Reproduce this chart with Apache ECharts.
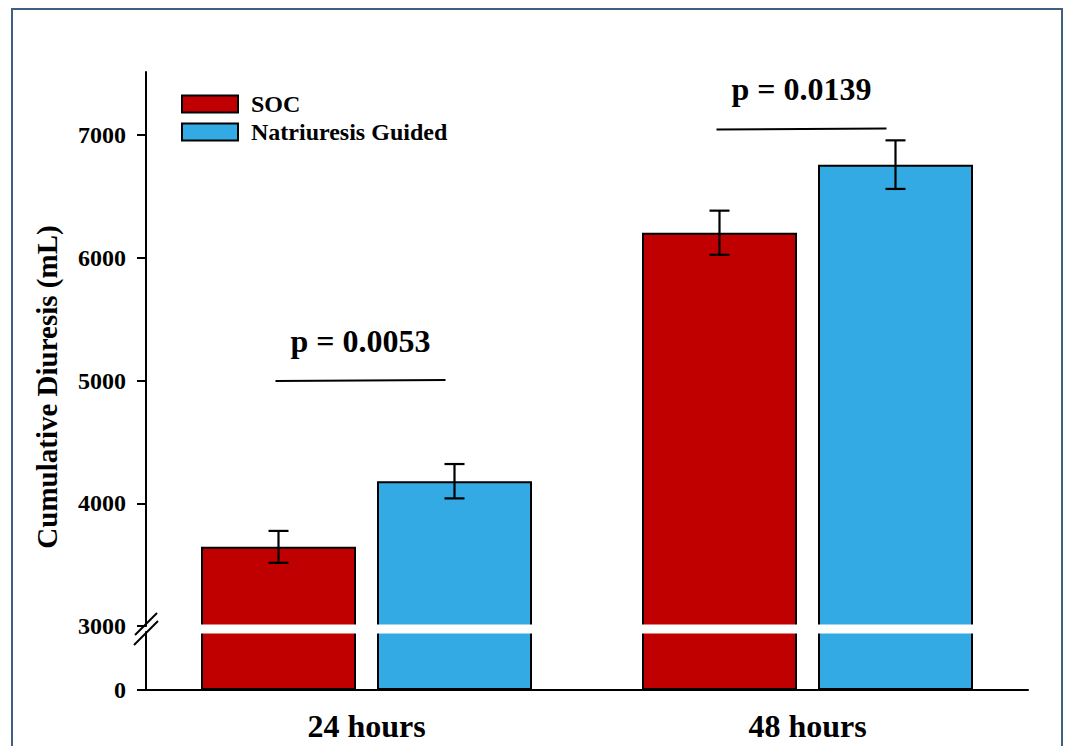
<!DOCTYPE html>
<html>
<head>
<meta charset="utf-8">
<script src="https://cdn.jsdelivr.net/npm/echarts@6/dist/echarts.min.js"></script>
<style>
html,body{margin:0;padding:0;background:#fff;}
#chart{width:1066px;height:746px;}
</style>
</head>
<body>
<div id="chart"></div>
<script>
// ---- data ----
const categories = ['24 hours', '48 hours'];
const seriesNames = ['SOC', 'Natriuresis Guided'];
const socValues = [3645, 6205];
const socErrors = [130, 180];
const ngValues = [4180, 6760];
const ngErrors = [140, 198];
const pLabels = ['p = 0.0053', 'p = 0.0139'];
const pLineLevels = [5000, 7050];
const upperTicks = [3000, 4000, 5000, 6000, 7000];
const lowerTicks = [0];
const yAxisTitle = 'Cumulative Diuresis (mL)';

// ---- style ----
const FONT = 'Liberation Serif';
const RED = '#c00000';
const BLUE = '#34aae4';
const BAR_W = 155;
const BAR_GAP = 21;
const HALF = (BAR_W + BAR_GAP) / 2;

const chart = echarts.init(document.getElementById('chart'), null, {renderer: 'svg'});

function errItems(values, errors, side) {
  return values.map((v, i) => [i, v, errors[i], side]);
}

function renderErr(params, api) {
  const cat = api.value(0), v = api.value(1), e = api.value(2), side = api.value(3);
  const top = api.coord([cat, v + e]);
  const bot = api.coord([cat, v - e]);
  const x = top[0] + side * HALF;
  const st = {stroke: '#000', lineWidth: 2.2};
  return {type: 'group', children: [
    {type: 'line', shape: {x1: x, y1: top[1], x2: x, y2: bot[1]}, style: st},
    {type: 'line', shape: {x1: x - 10, y1: top[1], x2: x + 10, y2: top[1]}, style: st},
    {type: 'line', shape: {x1: x - 10, y1: bot[1], x2: x + 10, y2: bot[1]}, style: st}
  ]};
}

function renderSig(params, api) {
  const cat = api.value(0), lvl = api.value(1);
  const p = api.coord([cat, lvl]);
  const cx = p[0] - 6;
  return {type: 'group', children: [
    {type: 'line', shape: {x1: cx - 85, y1: p[1] + 0.5, x2: cx + 85, y2: p[1] - 0.5},
      style: {stroke: '#000', lineWidth: 2}},
    {type: 'text', x: cx, y: p[1] - 40,
      style: {text: pLabels[params.dataIndex], fill: '#000', font: 'bold 32px "' + FONT + '"',
        align: 'center', verticalAlign: 'middle'}}
  ]};
}

const axisLabelStyle = {color: '#000', fontFamily: FONT, fontWeight: 'bold', fontSize: 24,
  formatter: function (v) { return String(v); }};
const lineStyle = {color: '#000', width: 2};

const option = {
  animation: false,
  backgroundColor: '#fff',
  grid: [
    {left: 146, right: 38, top: 72, height: 554},
    {left: 146, right: 38, top: 632, height: 58}
  ],
  legend: {
    orient: 'vertical', left: 181, top: 92, padding: 0,
    itemWidth: 56, itemHeight: 17, itemGap: 4,
    icon: 'rect',
    data: seriesNames,
    textStyle: {color: '#000', fontFamily: FONT, fontWeight: 'bold', fontSize: 24, lineHeight: 24, padding: [0, 0, 0, 8]},
    itemStyle: {borderColor: '#000', borderWidth: 2}
  },
  xAxis: [
    {type: 'category', gridIndex: 0, data: categories, show: false},
    {type: 'category', gridIndex: 1, data: categories,
      axisLine: {lineStyle: lineStyle}, axisTick: {show: false},
      axisLabel: {color: '#000', fontFamily: FONT, fontWeight: 'bold', fontSize: 32, margin: 20}}
  ],
  yAxis: [
    {type: 'value', gridIndex: 0, min: 3000, max: 7515, splitLine: {show: false},
      axisLine: {show: true, lineStyle: lineStyle},
      axisTick: {show: true, inside: false, length: 9, lineStyle: lineStyle, customValues: upperTicks},
      axisLabel: Object.assign({margin: 20, customValues: upperTicks}, axisLabelStyle)},
    {type: 'value', gridIndex: 1, min: 0, max: 3000, splitLine: {show: false},
      axisLine: {show: true, lineStyle: lineStyle},
      axisTick: {show: true, inside: false, length: 9, lineStyle: lineStyle, customValues: lowerTicks},
      axisLabel: Object.assign({margin: 20, customValues: lowerTicks}, axisLabelStyle)}
  ],
  series: [
    {name: seriesNames[0], type: 'bar', xAxisIndex: 0, yAxisIndex: 0, data: socValues,
      barWidth: BAR_W, barGap: (BAR_GAP / BAR_W * 100) + '%', clip: true,
      itemStyle: {color: RED, borderColor: '#000', borderWidth: 2}},
    {name: seriesNames[1], type: 'bar', xAxisIndex: 0, yAxisIndex: 0, data: ngValues,
      barWidth: BAR_W, clip: true,
      itemStyle: {color: BLUE, borderColor: '#000', borderWidth: 2}},
    {name: seriesNames[0], type: 'bar', xAxisIndex: 1, yAxisIndex: 1, data: socValues,
      barWidth: BAR_W, barGap: (BAR_GAP / BAR_W * 100) + '%', clip: true,
      itemStyle: {color: RED, borderColor: '#000', borderWidth: 2}},
    {name: seriesNames[1], type: 'bar', xAxisIndex: 1, yAxisIndex: 1, data: ngValues,
      barWidth: BAR_W, clip: true,
      itemStyle: {color: BLUE, borderColor: '#000', borderWidth: 2}},
    {type: 'custom', xAxisIndex: 0, yAxisIndex: 0, z: 5, renderItem: renderErr,
      data: errItems(socValues, socErrors, -1).concat(errItems(ngValues, ngErrors, 1)), silent: true},
    {type: 'custom', xAxisIndex: 0, yAxisIndex: 0, z: 5, renderItem: renderSig,
      data: pLineLevels.map((l, i) => [i, l]), silent: true, clip: false}
  ],
  graphic: [
    {type: 'rect', z: 0, silent: true, shape: {x: 12, y: 9, width: 1050, height: 780},
      style: {fill: 'none', stroke: '#41607f', lineWidth: 2}},
    {type: 'rect', z: 100, silent: true, shape: {x: 147.5, y: 624.5, width: 880, height: 9},
      style: {fill: '#fff'}},
    {type: 'line', z: 101, silent: true, shape: {x1: 135, y1: 635, x2: 157, y2: 613},
      style: {stroke: '#000', lineWidth: 2}},
    {type: 'line', z: 101, silent: true, shape: {x1: 134, y1: 645, x2: 158, y2: 621},
      style: {stroke: '#000', lineWidth: 2}},
    {type: 'text', z: 10, silent: true, x: 47, y: 387, rotation: Math.PI / 2,
      style: {text: yAxisTitle, fill: '#000', font: 'bold 29px "' + FONT + '"', align: 'center', verticalAlign: 'middle'}}
  ]
};
chart.setOption(option);
</script>
</body>
</html>
